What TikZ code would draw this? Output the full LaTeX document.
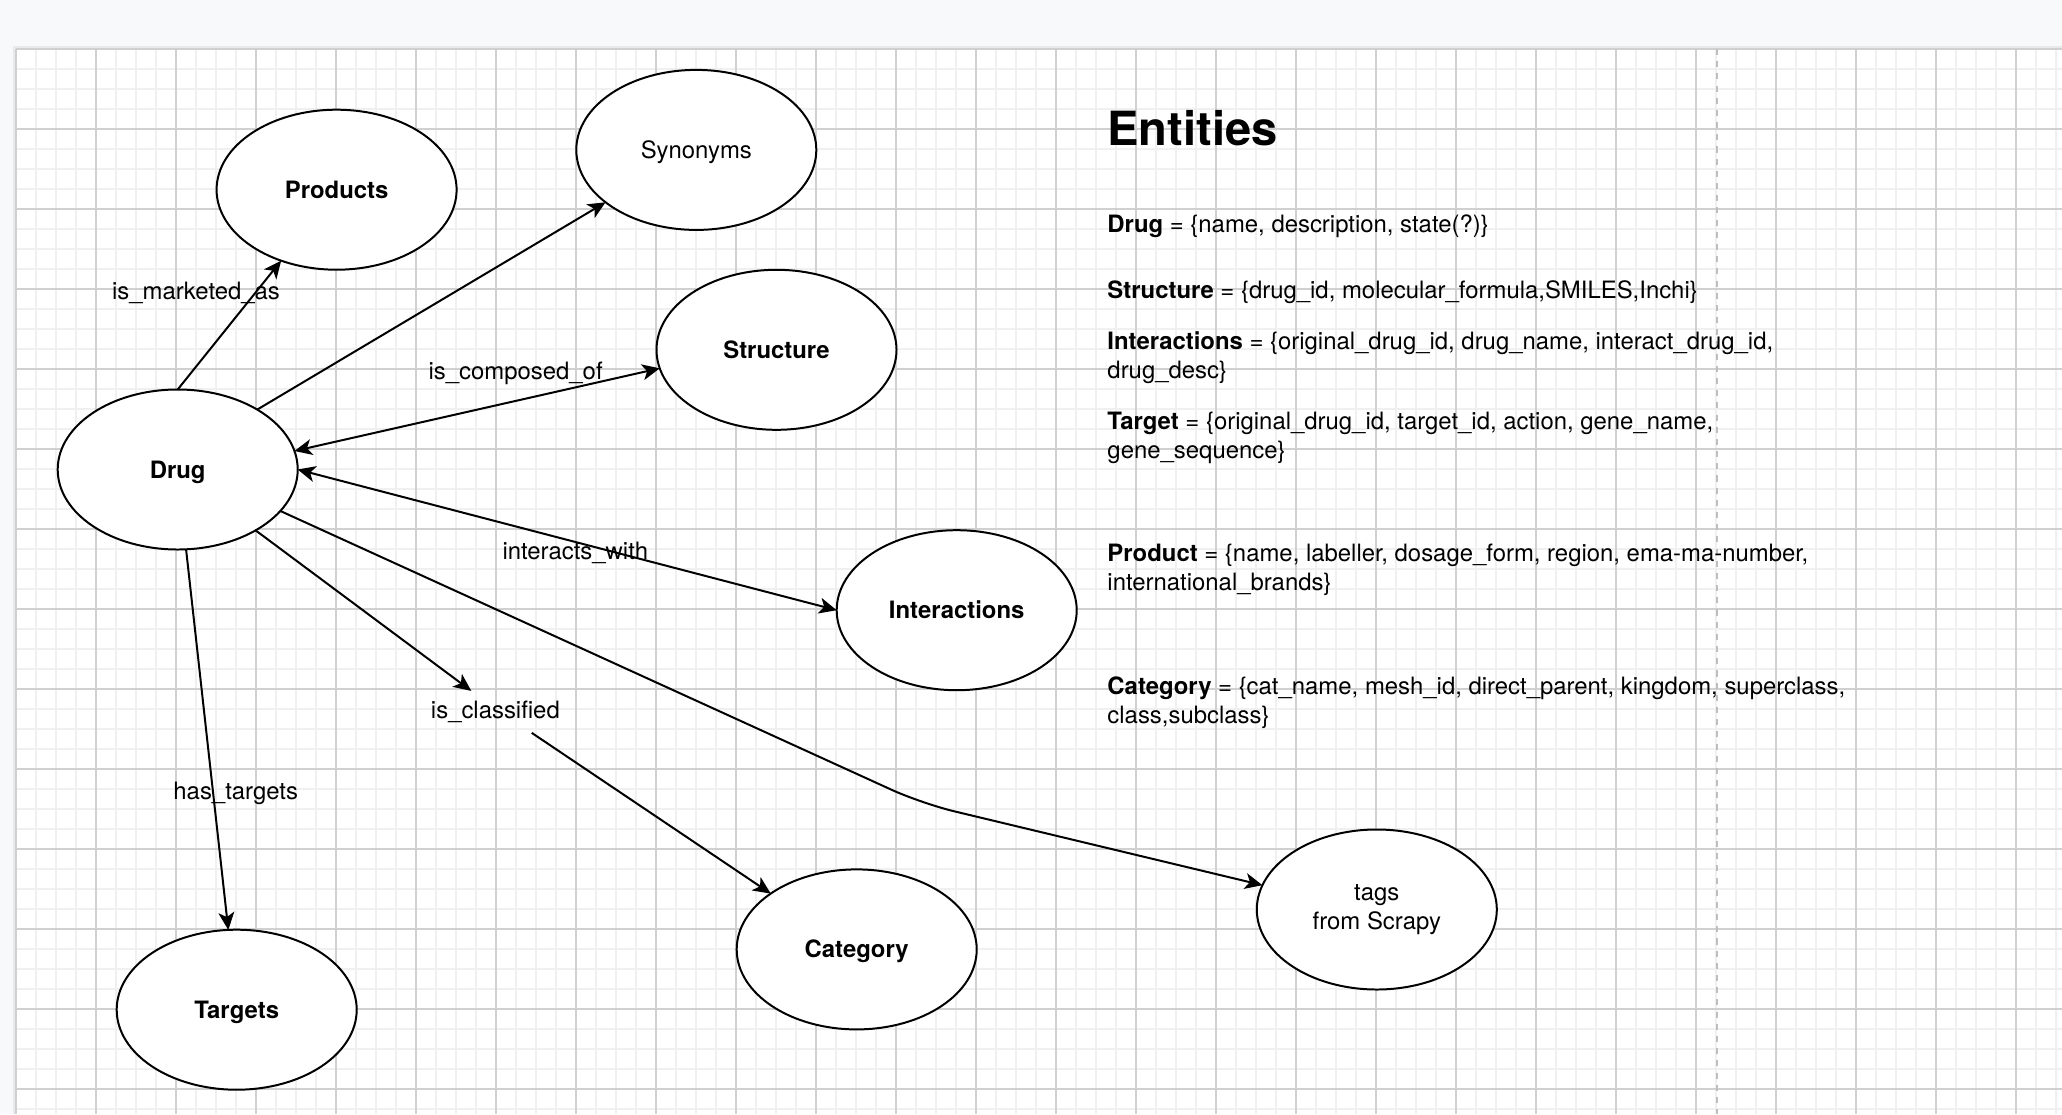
\documentclass[tikz,border=0pt]{standalone}
\usepackage{fontspec}
\setmainfont{TeX Gyre Heros}
\usetikzlibrary{arrows.meta,shapes.geometric}
\definecolor{lienzo}{RGB}{248,249,250}
\definecolor{sombra}{RGB}{232,233,235}
\definecolor{rejilla}{RGB}{240,240,240}
\definecolor{rejillamayor}{RGB}{208,208,208}
\definecolor{corte}{RGB}{190,190,190}
\tikzset{punta/.tip={Stealth[length=7.5pt, width=6.8pt, inset=2pt]}}

\begin{document}
\begin{tikzpicture}[x=0.015cm, y=-0.015cm,
    entity/.style={draw, ellipse, line width=0.85pt, fill=white,
      minimum width=3.6cm, minimum height=2.4cm, inner sep=0pt, outer sep=0pt,
      font=\fontsize{10.2}{12.1}\selectfont\bfseries, text height=7.3pt, text depth=0pt},
    plain/.style={entity, font=\fontsize{10.2}{12.1}\selectfont},
    rel/.style={font=\fontsize{10.2}{12.1}\selectfont, anchor=base, inner sep=0pt},
    attr/.style={font=\fontsize{10.2}{12.1}\selectfont, anchor=base west, align=left, inner sep=0pt},
    link/.style={line width=0.85pt, -punta},
    twoway/.style={line width=0.85pt, punta-punta}]
  \useasboundingbox (0,0) rectangle (2062,1114);
  % canvas and page
  \fill[lienzo] (0,0) rectangle (2062,1114);
  \fill[sombra] (13,46) rectangle (2062,1114);
  \fill[white] (16,49) rectangle (2062,1114);
  \foreach \x in {16,36,...,2062} \draw[rejilla, line width=0.85pt] (\x,49) -- (\x,1114);
  \foreach \y in {49,69,...,1114} \draw[rejilla, line width=0.85pt] (16,\y) -- (2062,\y);
  \foreach \x in {16,96,...,2062} \draw[rejillamayor, line width=0.45pt] (\x,49) -- (\x,1114);
  \foreach \y in {49,129,...,1114} \draw[rejillamayor, line width=0.45pt] (16,\y) -- (2062,\y);
  \draw[corte, line width=0.85pt, dash pattern=on 2.6pt off 2.6pt] (1716.7,49) -- (1716.7,1114);

  % entities
  \node[entity] (drug) at (177.7,469.5) {Drug};
  \node[entity] (products) at (336.6,189.7) {Products};
  \node[plain] (synonyms) at (696.3,149.9) {Synonyms};
  \node[entity] (structure) at (776.5,349.8) {Structure};
  \node[entity] (interactions) at (956.7,610.2) {Interactions};
  \node[entity] (category) at (856.7,949.4) {Category};
  \node[entity] (targets) at (236.7,1009.7) {Targets};
  \node[plain, align=center, text height=, text depth=] (tags) at (1376.8,909.5) {tags\\from Scrapy};

  % relation labels
  \node[rel] (marketed) at (196,299) {is\_marketed\_as};
  \node[rel] (composed) at (515.6,379) {is\_composed\_of};
  \node[rel] (interacts) at (575.3,559) {interacts\_with};
  \node[rel, inner xsep=10pt, inner ysep=4pt, text height=7.5pt, text depth=2pt] (classified) at (495.4,718.3) {is\_classified};
  \node[rel] (hastargets) at (235.7,799) {has\_targets};

  % connectors
  \draw[link] (drug.north) -- (products.232);
  \draw[link] (drug.37) -- (synonyms.210);
  \draw[twoway] (drug.9) -- (structure.189);
  \draw[twoway] (drug.east) -- (interactions.west);
  \draw[link] (drug.-38) -- (classified.139);
  \draw[link] (classified.-30) -- (category.147);
  \draw[link] (drug.-84) -- (targets.96);
  \coordinate (codo) at (921.7,803.5);
  \draw[link, rounded corners=0.5cm] (drug.-22) -- (codo) -- (tags.168);

  % entity attributes (two-line nodes sit on the baseline of their last line)
  \node[font=\fontsize{20.1}{24}\selectfont\bfseries, anchor=base west, inner sep=0pt] (titulo) at (1107,145) {Entities};
  \node[attr] (adrug) at (1107,232.7) {\textbf{Drug} = \{name, description, state(?)\}};
  \node[attr] (astructure) at (1107,298) {\textbf{Structure} = \{drug\_id, molecular\_formula,SMILES,Inchi\}};
  \node[attr] (ainteractions) at (1107,378.3) {\textbf{Interactions} = \{original\_drug\_id, drug\_name, interact\_drug\_id,\\drug\_desc\}};
  \node[attr] (atarget) at (1107,458.3) {\textbf{Target} = \{original\_drug\_id, target\_id, action, gene\_name,\\gene\_sequence\}};
  \node[attr] (aproduct) at (1107,590) {\textbf{Product} = \{name, labeller, dosage\_form, region, ema-ma-number,\\international\_brands\}};
  \node[attr] (acategory) at (1107,723) {\textbf{Category} = \{cat\_name, mesh\_id, direct\_parent, kingdom, superclass,\\class,subclass\}};
\end{tikzpicture}
\end{document}
